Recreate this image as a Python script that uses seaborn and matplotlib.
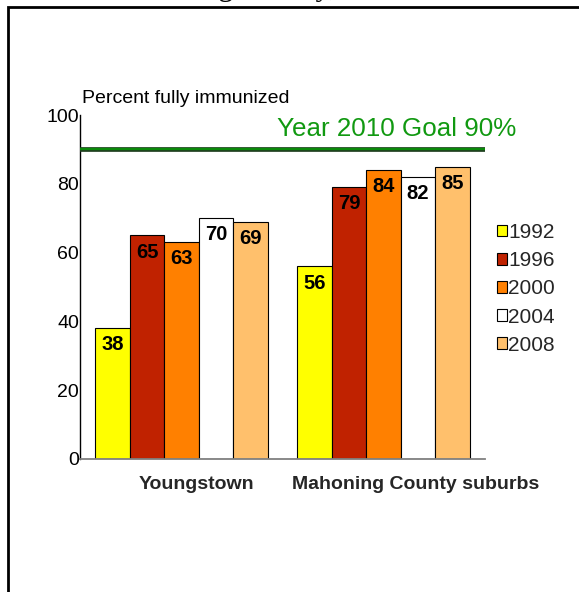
import matplotlib
matplotlib.use("Agg")
import matplotlib.pyplot as plt
from matplotlib.patches import Rectangle
import numpy as np
import pandas as pd
import seaborn as sns

sns.set_theme(style="white")
plt.rcParams["font.family"] = ["Liberation Sans", "DejaVu Sans"]

areas = ["Youngstown", "Mahoning County suburbs"]
years = ["1992", "1996", "2000", "2004", "2008"]
youngstown = [38, 65, 63, 70, 69]
mahoning = [56, 79, 84, 82, 85]
colors = ["#FFFF00", "#C02200", "#FF8000", "#FFFFFF", "#FFC06C"]
goal = 90

df = pd.DataFrame({
    "area": np.repeat(areas, len(years)),
    "year": years * 2,
    "pct": youngstown + mahoning,
})

fig = plt.figure(figsize=(5.79, 5.92), dpi=100)
ax = fig.add_axes([0.139, 0.2247, 0.698, 0.581])

sns.barplot(data=df, x="area", y="pct", hue="year", palette=colors,
            width=0.854, saturation=1, edgecolor="black", linewidth=0.8,
            ax=ax)

# value labels inside the top of each bar
for container in ax.containers:
    for bar, v in zip(container, container.datavalues):
        ax.annotate(f"{v:.0f}", (bar.get_x() + bar.get_width() / 2, bar.get_height()),
                    xytext=(0, -12), textcoords="offset points",
                    ha="center", va="center", fontsize=14.5, fontweight="bold",
                    color="black")

# goal line
ax.axhline(goal, color="#1f3f1f", lw=3.4, zorder=5)
ax.axhline(goal, color="#0a8a0a", lw=1.6, zorder=6)
ax.text(0.783, 0.96, "Year 2010 Goal 90%", transform=ax.transAxes,
        ha="center", va="center", fontsize=18.7, color="#119911")

ax.text(0.003, 1.049, "Percent fully immunized", transform=ax.transAxes,
        ha="left", va="center", fontsize=14, color="black")

ax.set_ylim(0, 100)
ax.set_xlim(-0.5, 1.5)
ax.set_yticks([0, 20, 40, 60, 80, 100])
ax.tick_params(axis="y", length=0, pad=1, labelsize=14, labelcolor="black")
ax.tick_params(axis="x", length=0, labelbottom=False)
ax.set_xlabel("")
ax.set_ylabel("")

# category labels (shifted right like the original)
offsets = [11, 23]
for i, (name, dx) in enumerate(zip(areas, offsets)):
    ax.annotate(name, xy=(i, 0), xycoords=("data", "axes fraction"),
                xytext=(dx, -18.5), textcoords="offset points",
                ha="center", va="center", fontsize=14, fontweight="bold")

sns.despine(ax=ax)
ax.spines["left"].set_color("black")
ax.spines["left"].set_linewidth(1)
ax.spines["bottom"].set_color("#808080")
ax.spines["bottom"].set_linewidth(1.3)

handles, labels = ax.get_legend_handles_labels()
ax.legend(handles, labels, loc="upper left",
          bbox_to_anchor=(497 / 579, 1 - 223 / 592), bbox_transform=fig.transFigure,
          frameon=False, handlelength=0.48, handleheight=0.48, handletextpad=0.06,
          labelspacing=0.44, borderaxespad=0, borderpad=0, fontsize=15)

# top heading cut off by the frame, only descenders visible
fig.text(108 / 579, 1 + 5.5 / 592, "Mahoning County, Ohio", ha="left",
         va="baseline", fontsize=22, family="Liberation Serif", color="black")

fig.patches.append(Rectangle((8 / 579, -0.1), 1.2, 1.1 - 7 / 592,
                             transform=fig.transFigure, fill=False,
                             lw=2, edgecolor="black"))

fig.savefig("out.png", dpi=100)
